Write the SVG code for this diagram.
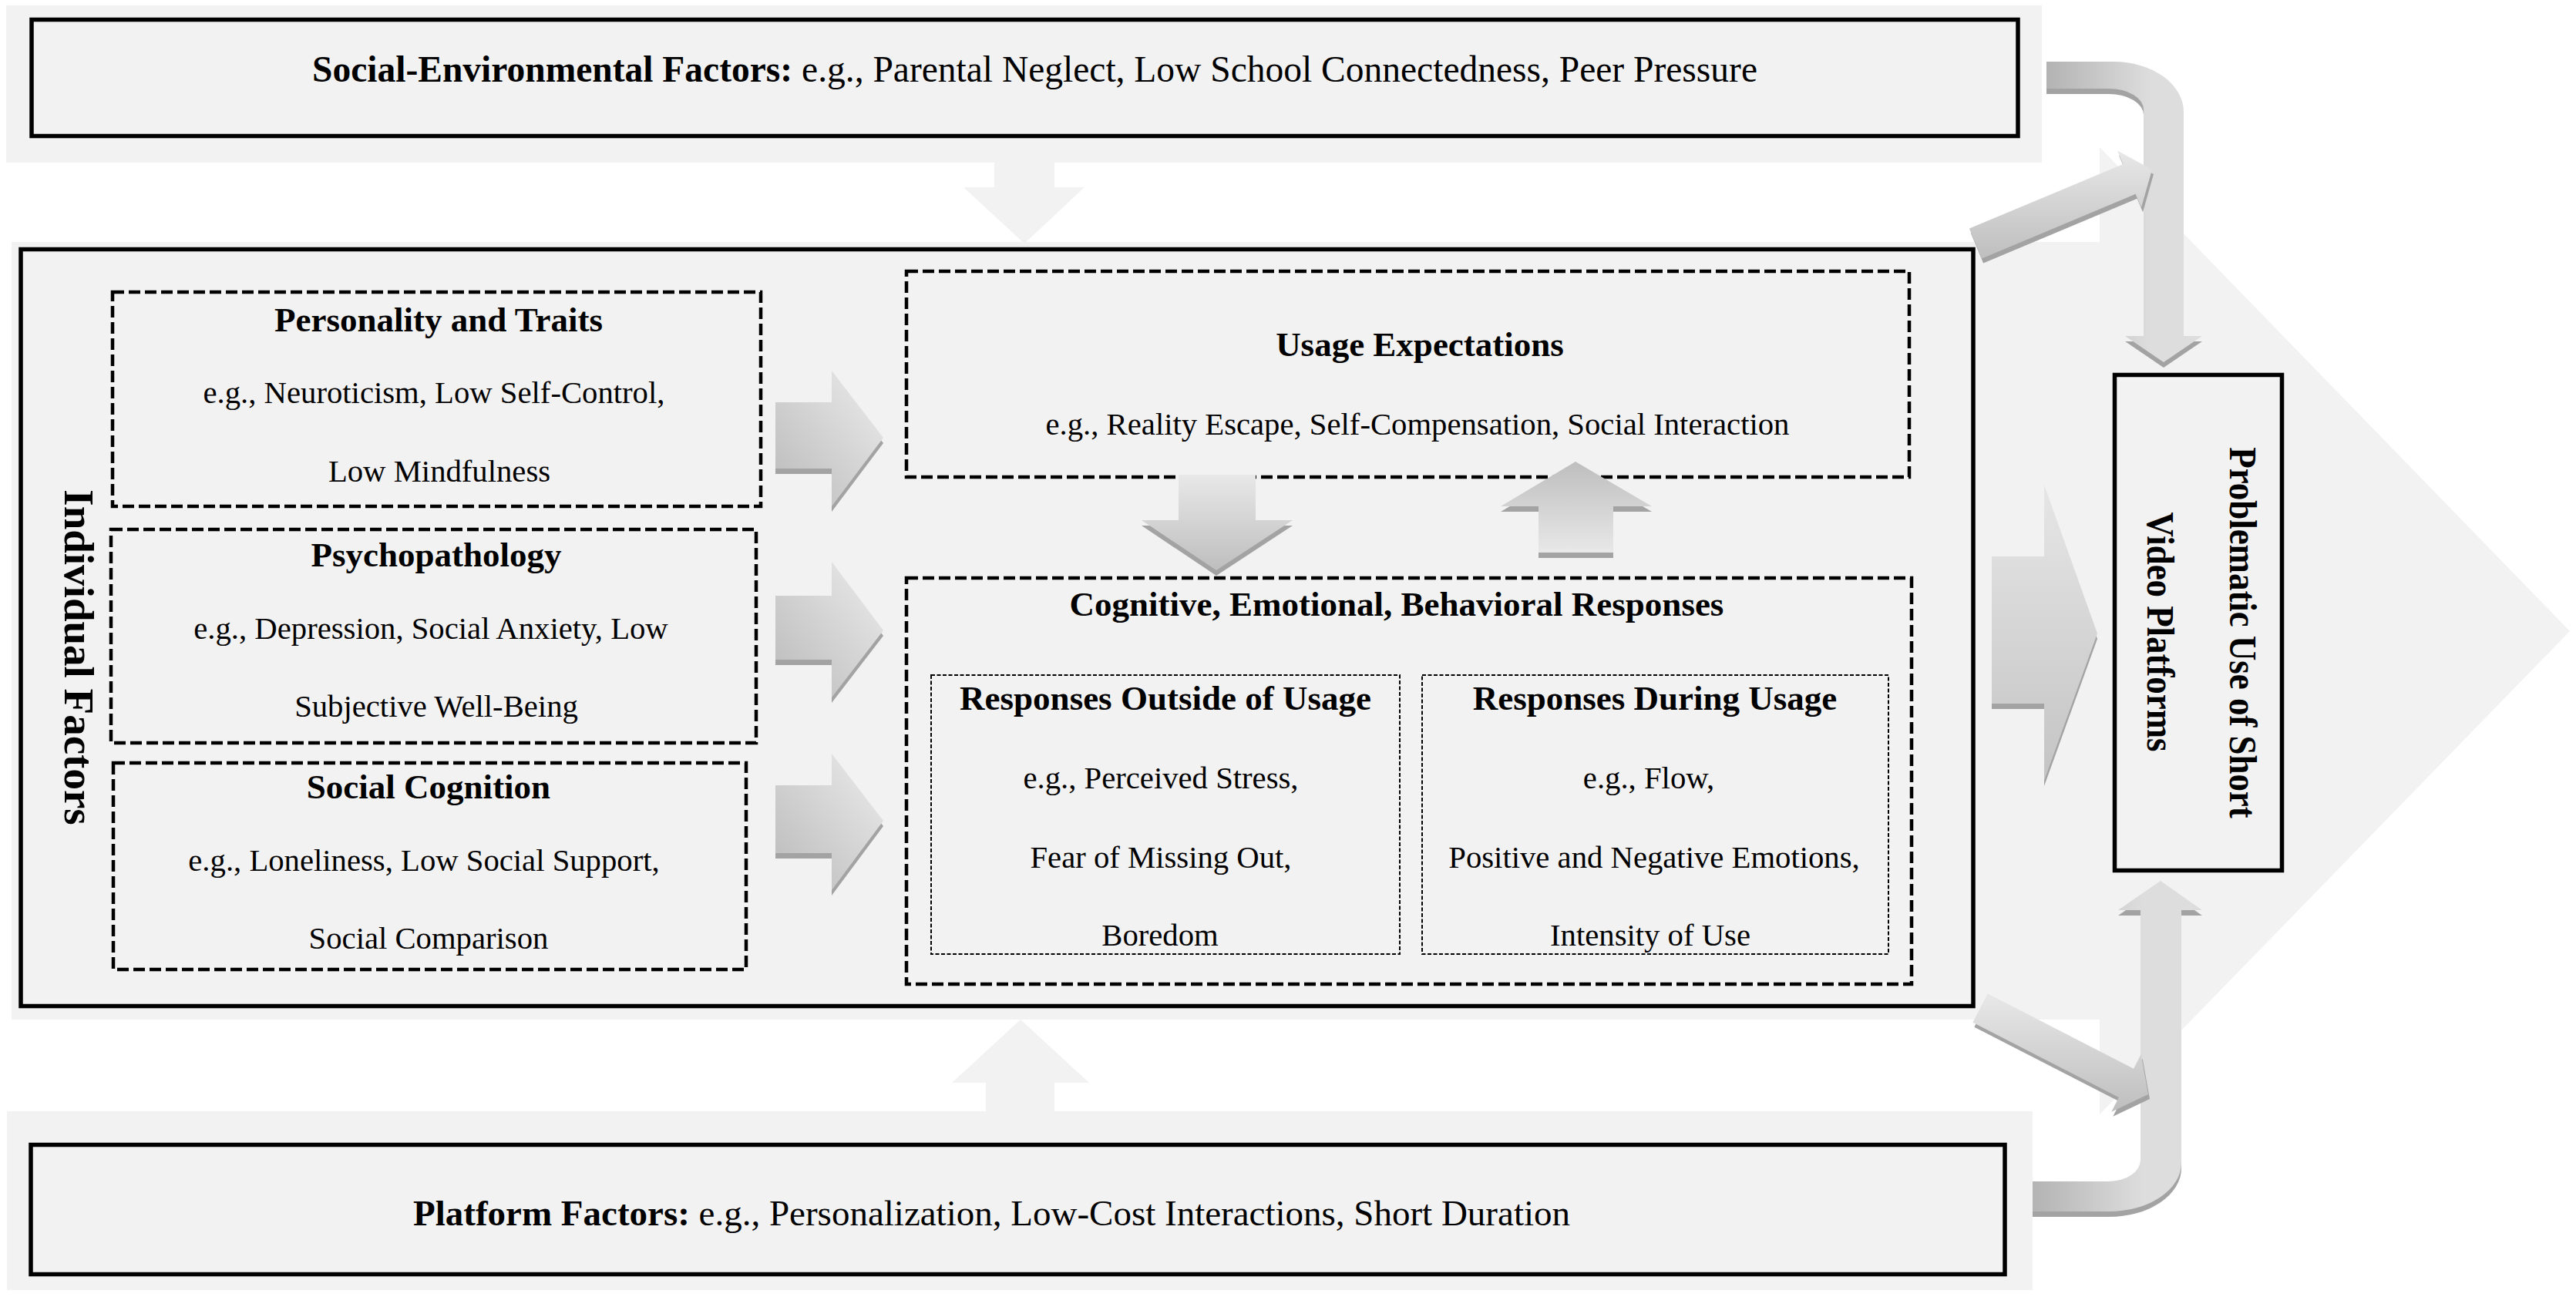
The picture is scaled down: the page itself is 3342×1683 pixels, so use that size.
<svg xmlns="http://www.w3.org/2000/svg" width="3342" height="1683" viewBox="0 0 3342 1683">
<defs>
<style>
.bg{fill:#f2f2f2}
.box{fill:none;stroke:#000;stroke-width:5.5}
.dash{fill:none;stroke:#000;stroke-width:4.5;stroke-dasharray:15 6}
.thin{fill:none;stroke:#000;stroke-width:2;stroke-dasharray:5 2.5}
.t{font-family:"Liberation Serif","Times New Roman",serif;fill:#000}
.b{font-weight:bold;font-size:45px}
.r{font-size:40.7px}
.m{text-anchor:middle}
.sh{fill:#a3a3a3}
</style>
<linearGradient id="gR" x1="1" y1="0" x2="0" y2="1">
<stop offset="0" stop-color="#ececec"/><stop offset="1" stop-color="#bababa"/>
</linearGradient>
<linearGradient id="gV" x1="0" y1="0" x2="0" y2="1">
<stop offset="0" stop-color="#e8e8e8"/><stop offset="1" stop-color="#bebebe"/>
</linearGradient>
<linearGradient id="gVu" x1="0" y1="0" x2="0" y2="1">
<stop offset="0" stop-color="#bebebe"/><stop offset="1" stop-color="#e8e8e8"/>
</linearGradient>
<linearGradient id="gD" x1="0" y1="0" x2="0" y2="1">
<stop offset="0" stop-color="#e6e6e6"/><stop offset="1" stop-color="#c4c4c4"/>
</linearGradient>
<linearGradient id="gCT" gradientUnits="userSpaceOnUse" x1="2655" y1="0" x2="2790" y2="0">
<stop offset="0" stop-color="#b3b3b3"/><stop offset="1" stop-color="#dddddd"/>
</linearGradient>
<linearGradient id="gCB" gradientUnits="userSpaceOnUse" x1="2637" y1="0" x2="2780" y2="0">
<stop offset="0" stop-color="#b3b3b3"/><stop offset="1" stop-color="#dddddd"/>
</linearGradient>
</defs>
<rect width="3342" height="1683" fill="#fff"/>
<g id="background">
<rect class="bg" x="8" y="7" width="2641" height="204"/>
<rect class="bg" x="15" y="314" width="2709" height="1009"/>
<rect class="bg" x="9" y="1442" width="2628" height="232"/>
<polygon class="bg" points="2724,191 3334,819 2724,1446"/>
</g>
<g id="social-environmental">
<rect class="box" x="41" y="25.5" width="2577" height="151"/>
<text class="t" x="405" y="106" font-size="47.5"><tspan font-weight="bold">Social-Environmental Factors:</tspan> e.g., Parental Neglect, Low School Connectedness, Peer Pressure</text>
</g>
<g id="platform">
<rect class="box" x="40" y="1485.5" width="2561" height="168"/>
<text class="t" x="536" y="1590" font-size="47"><tspan font-weight="bold">Platform Factors:</tspan> e.g., Personalization, Low-Cost Interactions, Short Duration</text>
</g>
<g id="individual">
<rect class="box" x="27" y="323.5" width="2533" height="982"/>
<text class="t m" font-weight="bold" font-size="55" transform="translate(84,853) rotate(90)">Individual Factors</text>
</g>
<g id="personality">
<rect class="dash" x="146" y="379" width="841" height="278"/>
<text class="t b m" x="569" y="429.5">Personality and Traits</text>
<text class="t r m" x="563" y="523">e.g., Neuroticism, Low Self-Control,</text>
<text class="t r m" x="570" y="625">Low Mindfulness</text>
</g>
<g id="psychopathology">
<rect class="dash" x="144" y="687" width="837" height="277"/>
<text class="t b m" x="566" y="735">Psychopathology</text>
<text class="t r m" x="559" y="829">e.g., Depression, Social Anxiety, Low</text>
<text class="t r m" x="566" y="930">Subjective Well-Being</text>
</g>
<g id="social-cognition">
<rect class="dash" x="147" y="990" width="821" height="268"/>
<text class="t b m" x="556" y="1036">Social Cognition</text>
<text class="t r m" x="550" y="1130">e.g., Loneliness, Low Social Support,</text>
<text class="t r m" x="556" y="1231">Social Comparison</text>
</g>
<g id="usage-expectations">
<rect class="dash" x="1176" y="352" width="1301" height="267"/>
<text class="t b m" x="1842" y="461.6">Usage Expectations</text>
<text class="t r m" x="1839" y="564">e.g., Reality Escape, Self-Compensation, Social Interaction</text>
</g>
<g id="responses">
<rect class="dash" x="1176" y="750" width="1304" height="527"/>
<text class="t b m" x="1812" y="799">Cognitive, Emotional, Behavioral Responses</text>
</g>
<g id="responses-outside">
<rect class="thin" x="1208" y="876" width="608" height="362"/>
<text class="t b m" x="1512" y="921">Responses Outside of Usage</text>
<text class="t r m" x="1506" y="1023">e.g., Perceived Stress,</text>
<text class="t r m" x="1506" y="1125.5">Fear of Missing Out,</text>
<text class="t r m" x="1505" y="1227">Boredom</text>
</g>
<g id="responses-during">
<rect class="thin" x="1845" y="876" width="605" height="362"/>
<text class="t b m" x="2147" y="921">Responses During Usage</text>
<text class="t r m" x="2139" y="1023">e.g., Flow,</text>
<text class="t r m" x="2146" y="1125.5">Positive and Negative Emotions,</text>
<text class="t r m" x="2141" y="1227">Intensity of Use</text>
</g>
<g id="problematic-use">
<rect class="box" x="2743.5" y="486.5" width="217" height="643"/>
<text class="t m" font-weight="bold" font-size="51" transform="translate(2893,821) rotate(90) scale(0.88,1)">Problematic Use of Short</text>
<text class="t m" font-weight="bold" font-size="51" transform="translate(2786,820) rotate(90) scale(0.88,1)">Video Platforms</text>
</g>
<g id="connectors">
<path class="bg" d="M1290,205 H1368 V243 H1407 L1329,316 L1250,243 H1290 Z"/>
<path class="bg" d="M1324,1323 L1413,1405 H1368 V1447 H1279 V1405 H1235 Z"/>
<g transform="translate(0,7)" class="sh">
<path d="M1006,522 H1079 V481 L1146,568 L1079,657 V608 H1006 Z"/>
<path d="M1006,773 H1079 V729 L1146,818 L1079,905 V856 H1006 Z"/>
<path d="M1006,1019 H1079 V978 L1146,1065 L1079,1155 V1107 H1006 Z"/>
<path d="M2584,722 H2652 V629 L2721,822 L2652,1013 V913 H2584 Z"/>
<path d="M1529,616 H1629 V675 H1677 L1578,740 L1481,675 H1529 Z"/>
<path d="M2044,599 L2143,657 H2093 V717 H1996 V657 H1947 Z"/>
<path d="M2655,80 H2742 A91,65 0 0 1 2833,145 V436 H2857 L2807,470 L2757,436 H2781 V142 A45,27 0 0 0 2736,115 H2655 Z"/>
<path d="M2637,1533 H2736 A41,28 0 0 0 2777,1505 V1181 H2748 L2803,1143 L2857,1181 H2830 V1509 A94,63 0 0 1 2736,1572 H2637 Z"/>
</g>
<path fill="url(#gR)" d="M1006,522 H1079 V481 L1146,568 L1079,657 V608 H1006 Z"/>
<path fill="url(#gR)" d="M1006,773 H1079 V729 L1146,818 L1079,905 V856 H1006 Z"/>
<path fill="url(#gR)" d="M1006,1019 H1079 V978 L1146,1065 L1079,1155 V1107 H1006 Z"/>
<path fill="url(#gD)" d="M2584,722 H2652 V629 L2721,822 L2652,1013 V913 H2584 Z"/>
<path fill="url(#gV)" d="M1529,616 H1629 V675 H1677 L1578,740 L1481,675 H1529 Z"/>
<path fill="url(#gVu)" d="M2044,599 L2143,657 H2093 V717 H1996 V657 H1947 Z"/>
<path fill="url(#gCT)" d="M2655,80 H2742 A91,65 0 0 1 2833,145 V436 H2857 L2807,470 L2757,436 H2781 V142 A45,27 0 0 0 2736,115 H2655 Z"/>
<path fill="url(#gCB)" d="M2637,1533 H2736 A41,28 0 0 0 2777,1505 V1181 H2748 L2803,1143 L2857,1181 H2830 V1509 A94,63 0 0 1 2736,1572 H2637 Z"/>
<g transform="translate(2,6)" class="sh">
<polygon points="2571.1,335.4 2554.9,296.6 2754.4,213 2747,195.5 2792,220 2778,269.3 2770.6,251.8"/>
<polygon points="2578.6,1289.3 2768.1,1386.7 2777.7,1368 2787,1420 2739.3,1442.8 2748.9,1424.1 2559.4,1326.7"/>
</g>
<polygon fill="url(#gV)" points="2571.1,335.4 2554.9,296.6 2754.4,213 2747,195.5 2792,220 2778,269.3 2770.6,251.8"/>
<polygon fill="url(#gV)" points="2578.6,1289.3 2768.1,1386.7 2777.7,1368 2787,1420 2739.3,1442.8 2748.9,1424.1 2559.4,1326.7"/>
</g>
</svg>
